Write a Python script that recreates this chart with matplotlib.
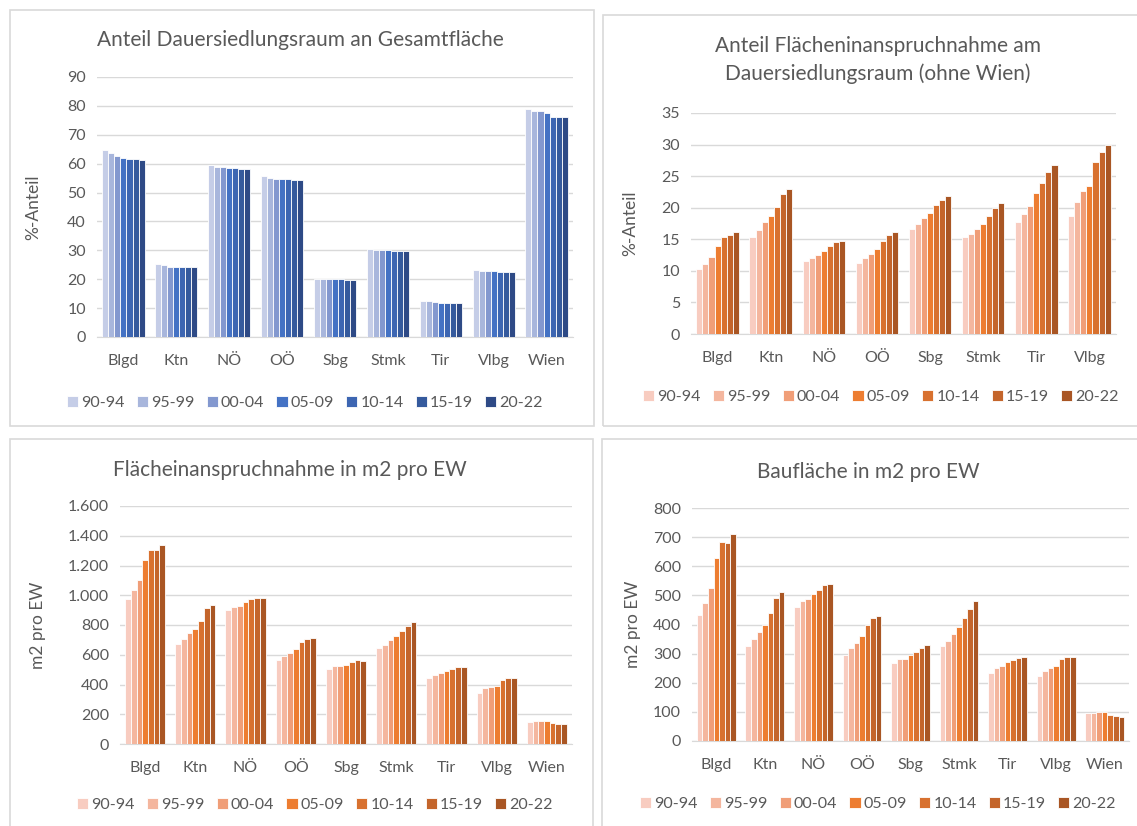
import matplotlib
matplotlib.use('Agg')
import matplotlib.pyplot as plt
import numpy as np
from matplotlib.patches import Rectangle
from matplotlib.ticker import FuncFormatter

plt.rcParams['font.family'] = ['Lato', 'DejaVu Sans']

periods = ['90-94', '95-99', '00-04', '05-09', '10-14', '15-19', '20-22']
states = ['Blgd', 'Ktn', 'NÖ', 'OÖ', 'Sbg', 'Stmk', 'Tir', 'Vlbg', 'Wien']
states_no_wien = states[:-1]

# Anteil Dauersiedlungsraum an Gesamtfläche (%), one row per state
dsr_share = [
    [64.8, 63.8, 62.7, 62.0, 61.7, 61.5, 61.4],
    [25.2, 24.8, 24.3, 24.2, 24.2, 24.2, 24.1],
    [59.4, 59.0, 58.8, 58.6, 58.4, 58.3, 58.3],
    [55.8, 55.2, 54.8, 54.7, 54.6, 54.5, 54.5],
    [20.2, 20.1, 20.0, 20.0, 20.0, 19.9, 19.9],
    [30.5, 30.2, 30.0, 30.0, 29.9, 29.8, 29.8],
    [12.4, 12.3, 12.1, 11.6, 11.8, 11.6, 11.6],
    [23.3, 22.9, 22.7, 22.7, 22.6, 22.5, 22.6],
    [79.0, 78.4, 78.4, 77.6, 76.2, 76.0, 76.0],
]

# Anteil Flächeninanspruchnahme am Dauersiedlungsraum (%), ohne Wien
fi_share = [
    [10.3, 11.1, 12.2, 14.0, 15.3, 15.6, 16.2],
    [15.3, 16.4, 17.7, 18.7, 20.1, 22.1, 22.9],
    [11.6, 12.0, 12.5, 13.2, 14.0, 14.5, 14.8],
    [11.3, 12.0, 12.7, 13.5, 14.8, 15.7, 16.2],
    [16.7, 17.5, 18.3, 19.2, 20.4, 21.3, 21.9],
    [15.3, 15.9, 16.7, 17.5, 18.7, 19.9, 20.8],
    [17.7, 19.0, 20.3, 22.3, 23.9, 25.7, 26.7],
    [18.7, 20.9, 22.6, 23.5, 27.2, 28.9, 30.0],
]

# Flächeninanspruchnahme in m2 pro Einwohner
fi_per_ew = [
    [978, 1034, 1105, 1239, 1307, 1307, 1336],
    [673, 709, 743, 774, 830, 911, 937],
    [899, 924, 931, 955, 973, 984, 984],
    [562, 593, 615, 640, 685, 709, 714],
    [503, 523, 523, 530, 550, 562, 559],
    [644, 664, 696, 727, 758, 792, 817],
    [443, 467, 474, 490, 506, 521, 521],
    [342, 374, 385, 391, 429, 443, 443],
    [148, 152, 157, 157, 143, 134, 132],
]

# Baufläche in m2 pro Einwohner
bau_per_ew = [
    [431, 474, 526, 630, 682, 681, 710],
    [325, 350, 374, 398, 438, 490, 512],
    [459, 479, 487, 505, 520, 534, 539],
    [294, 320, 338, 359, 399, 421, 429],
    [267, 281, 281, 295, 307, 320, 328],
    [327, 345, 368, 391, 423, 454, 481],
    [234, 249, 256, 272, 278, 286, 287],
    [222, 242, 250, 256, 280, 287, 287],
    [97, 97, 99, 98, 89, 85, 81],
]

blues = ['#C5CDE7', '#A8B6DC', '#8398CF', '#4472C4', '#3D66B2', '#355A9D', '#2E4A86']
oranges = ['#F8CCC0', '#F4B69E', '#F09E78', '#ED7D31', '#D8712F', '#C4652B', '#A95624']

TXT = '#595959'
GRID = '#D9D9D9'
W, H = 1137, 826

fig = plt.figure(figsize=(W / 100, H / 100), dpi=100)


def px_rect(left, top, right, bottom):
    return [left / W, 1 - bottom / H, (right - left) / W, (bottom - top) / H]


def thousands(v, pos):
    return f'{int(v):,}'.replace(',', '.')


def grouped_bars(box, cats, data, colors, ymax, step, ylabel, title, title_xy,
                 ylabel_x, legend_xy, fmt=None):
    ax = fig.add_axes(px_rect(*box))
    vals = np.array(data, dtype=float)
    x = np.arange(len(cats))
    n = len(periods)
    bw = 0.8 / n
    for i, p in enumerate(periods):
        ax.bar(x - 0.4 + bw * (i + 0.5), vals[:, i], bw, color=colors[i],
               edgecolor='white', linewidth=0.6, label=p, zorder=3)
    ax.set_xlim(-0.5, len(cats) - 0.5)
    ax.set_ylim(0, ymax)
    ax.set_yticks(np.arange(0, ymax + step / 2, step))
    if fmt is not None:
        ax.yaxis.set_major_formatter(FuncFormatter(fmt))
    ax.set_xticks(x)
    ax.set_xticklabels(cats)
    ax.tick_params(length=0, colors=TXT, labelsize=11.5)
    ax.tick_params(axis='x', pad=12)
    ax.tick_params(axis='y', pad=8)
    ax.yaxis.grid(True, color=GRID, linewidth=1, zorder=0)
    for s in ['top', 'right', 'left']:
        ax.spines[s].set_visible(False)
    ax.spines['bottom'].set_color(GRID)
    if ylabel:
        fig.text(ylabel_x / W, 1 - (box[1] + box[3]) / 2 / H, ylabel, rotation=90,
                 ha='center', va='center', color=TXT, fontsize=12.5)
    fig.text(title_xy[0] / W, 1 - title_xy[1] / H, title, ha='center', va='center',
             color=TXT, fontsize=15, linespacing=1.4)
    ax.legend(loc='center', bbox_to_anchor=(legend_xy[0] / W, 1 - legend_xy[1] / H),
              bbox_transform=fig.transFigure, ncol=n, frameon=False,
              handlelength=0.7, handleheight=0.7, handletextpad=0.2,
              columnspacing=0.75, fontsize=11.5, labelcolor=TXT)
    return ax


# panel frames
for l, t, r, b in [(10, 10, 594, 426), (603, 15, 1160, 426),
                   (10, 439, 593, 840), (602, 439, 1160, 840)]:
    fig.add_artist(Rectangle((l / W, 1 - b / H), (r - l) / W, (b - t) / H,
                             transform=fig.transFigure, fill=False,
                             edgecolor=GRID, linewidth=1.2))

grouped_bars((97, 77, 573, 337), states, dsr_share, blues, 90, 10, '%-Anteil',
             'Anteil Dauersiedlungsraum an Gesamtfläche', (300, 40), 33, (305, 403))

grouped_bars((691, 113, 1116, 334), states_no_wien, fi_share, oranges, 35, 5, '%-Anteil',
             'Anteil Flächeninanspruchnahme am\nDauersiedlungsraum (ohne Wien)', (878, 60),
             630, (881, 397))

grouped_bars((120, 506, 572, 744), states, fi_per_ew, oranges, 1600, 200, 'm2 pro EW',
             'Flächeinanspruchnahme in m2 pro EW', (290, 470), 38, (315, 805),
             fmt=thousands)

grouped_bars((692, 508, 1129, 741), states, bau_per_ew, oranges, 800, 100, 'm2 pro EW',
             'Baufläche in m2 pro EW', (868, 472), 633, (878, 804))

fig.savefig('out.png', dpi=100)
